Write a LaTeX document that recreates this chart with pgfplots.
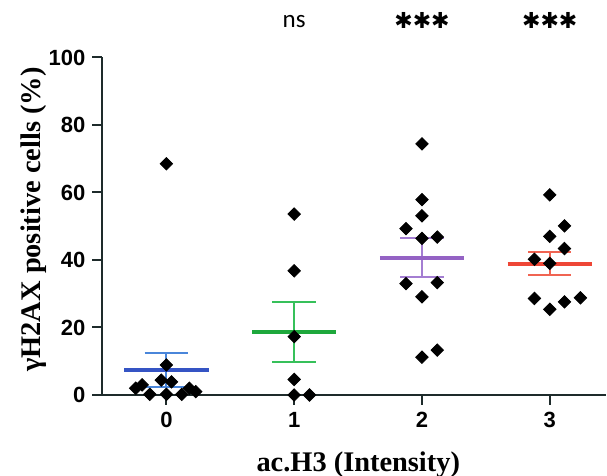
\documentclass[border=0pt]{standalone}
\usepackage{fontspec}
\setmainfont{Liberation Serif}
\setsansfont{Liberation Sans}
\newfontfamily\calibri{Carlito}
\newfontfamily\dejavu{DejaVu Sans}
\usepackage{pgfplots}
\pgfplotsset{compat=1.18}

\definecolor{axisdark}{HTML}{1E2B2B}
\definecolor{meanblue}{HTML}{3554C4}
\definecolor{errblue}{HTML}{4A86DA}
\definecolor{meangreen}{HTML}{1EA83C}
\definecolor{errgreen}{HTML}{36C05A}
\definecolor{meanpurple}{HTML}{9462C4}
\definecolor{errpurple}{HTML}{A47ED2}
\definecolor{meanred}{HTML}{EE4636}
\definecolor{errred}{HTML}{F06452}

\pgfplotsset{
  dots/.style={only marks, mark=square*, mark size=2.2pt,
    mark options={rotate=45, fill=black, draw=black}},
  sem/.style={line width=1pt},
  mean/.style={line width=2pt},
}

% individual values, jittered around the group position
\pgfplotstableread{
x y
-0.24 2.0
-0.19 3.0
-0.13 0.2
-0.04 4.4
0 0.2
0.04 3.9
0.12 0.2
0.18 2.0
0.23 1.0
0 8.9
0 68.5
}\groupzero
\pgfplotstableread{
x y
1 53.6
1 36.8
1 17.3
1 4.6
1 0
1.12 0
}\groupone
\pgfplotstableread{
x y
2 74.4
2 57.9
2 53.1
1.875 49.3
2 46.4
2.12 46.8
1.875 33.0
2.12 33.3
2 29.1
2 11.2
2.12 13.3
}\grouptwo
\pgfplotstableread{
x y
3 59.3
3.115 50.1
3 47.0
3.115 43.4
2.88 40.2
3 39.0
2.88 28.6
3 25.4
3.115 27.6
3.24 28.8
}\groupthree

\begin{document}
\begin{tikzpicture}
\path[use as bounding box] (0,0) rectangle (303.5pt,238pt);
\begin{axis}[
  at={(51.25pt,40.5pt)}, anchor=south west,
  scale only axis, width=251.75pt, height=168.75pt,
  xmin=-0.5, xmax=3.44, ymin=0, ymax=100,
  axis x line=bottom, axis y line=left,
  axis line style={-, line width=1pt, draw=axisdark},
  xtick={0,1,2,3}, ytick={0,20,...,100},
  tick align=outside, major tick length=5pt,
  tick style={line width=1pt, draw=axisdark},
  /pgf/number format/assume math mode=true,
  tick label style={font=\sffamily\bfseries\fontsize{11}{13}\selectfont},
  xlabel={ac.H3 (Intensity)},
  ylabel={γH2AX positive cells (\%)},
  label style={font=\bfseries\fontsize{14.2}{16}\selectfont},
  xlabel style={at={(axis description cs:0.508,-0.228)}, anchor=base},
  ylabel style={at={(axis description cs:-0.137,0.52)}, anchor=center},
  clip=false,
  unbounded coords=jump,
]
% SEM bars and means
\addplot[errblue, sem] coordinates {(-0.17,12.5) (0.17,12.5) (0,nan) (0,12.5) (0,2.4) (0,nan) (-0.17,2.4) (0.17,2.4)};
\addplot[meanblue, mean] coordinates {(-0.33,7.4) (0.33,7.4)};
\addplot[errgreen, sem] coordinates {(0.83,27.7) (1.17,27.7) (1,nan) (1,27.7) (1,9.8) (1,nan) (0.83,9.8) (1.17,9.8)};
\addplot[meangreen, mean] coordinates {(0.67,18.7) (1.33,18.7)};
\addplot[errpurple, sem] coordinates {(1.83,46.5) (2.17,46.5) (2,nan) (2,46.5) (2,35.0) (2,nan) (1.83,35.0) (2.17,35.0)};
\addplot[meanpurple, mean] coordinates {(1.67,40.6) (2.33,40.6)};
\addplot[errred, sem] coordinates {(2.83,42.4) (3.17,42.4) (3,nan) (3,42.4) (3,35.5) (3,nan) (2.83,35.5) (3.17,35.5)};
\addplot[meanred, mean] coordinates {(2.67,38.8) (3.33,38.8)};
% points
\addplot[dots] table {\groupzero};
\addplot[dots] table {\groupone};
\addplot[dots] table {\grouptwo};
\addplot[dots] table {\groupthree};
% significance
\node[font=\calibri\fontsize{12.5}{14}\selectfont] at (axis cs:1,110.8) {ns};
\node[font=\dejavu\fontsize{11}{12}\selectfont, inner sep=0pt] at (axis cs:2,110.9) {✱✱✱};
\node[font=\dejavu\fontsize{11}{12}\selectfont, inner sep=0pt] at (axis cs:3,110.9) {✱✱✱};
\end{axis}
\end{tikzpicture}
\end{document}
